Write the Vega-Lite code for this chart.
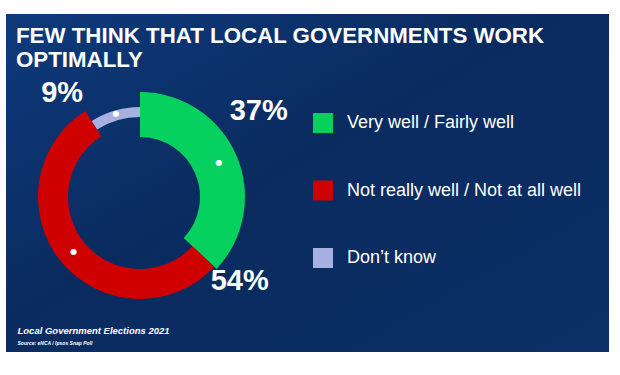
{
  "$schema": "https://vega.github.io/schema/vega-lite/v6.json",
  "width": 603,
  "height": 338,
  "autosize": {"type": "none"},
  "padding": {"left": 6, "top": 14, "right": 11, "bottom": 23},
  "background": "#ffffff",
  "config": {
    "view": {
      "stroke": null,
      "fill": {"gradient": "linear", "x1": 0, "y1": 0, "x2": 1, "y2": 1,
        "stops": [{"offset": 0, "color": "#0e3a7c"}, {"offset": 0.45, "color": "#0a2b5f"}, {"offset": 1, "color": "#0b2f66"}]}
    },
    "font": "Liberation Sans"
  },
  "title": {
    "text": ["FEW THINK THAT LOCAL GOVERNMENTS WORK", "OPTIMALLY"],
    "anchor": "start",
    "frame": "group",
    "orient": "top",
    "offset": -8,
    "dy": 49,
    "dx": 10,
    "fontSize": 22.3,
    "fontWeight": "bold",
    "color": "#ffffff",
    "font": "Liberation Sans",
    "lineHeight": 24
  },
  "data": {
    "values": [
      {"response": "Very well / Fairly well", "pct": 37, "label": "37%"},
      {"response": "Not really well / Not at all well", "pct": 54, "label": "54%"},
      {"response": "Don’t know", "pct": 9, "label": "9%"}
    ]
  },
  "encoding": {
    "x": {
      "datum": 0, "type": "quantitative",
      "scale": {"domain": [-1.34, 4.69]},
      "axis": {"title": "Local Government Elections 2021", "domain": false, "ticks": false, "labels": false, "grid": false,
        "titleX": 11, "titleY": -19, "titleAlign": "left", "titleAnchor": "start", "titleBaseline": "alphabetic",
        "titleColor": "#ffffff", "titleFontSize": 9.5, "titleFontStyle": "italic", "titleFontWeight": "bold", "titleFont": "Liberation Sans"}
    },
    "y": {
      "datum": 0, "type": "quantitative",
      "scale": {"domain": [-1.55, 1.83]},
      "axis": {"title": "Source: eNCA / Ipsos Snap Poll", "domain": false, "ticks": false, "labels": false, "grid": false,
        "titleAngle": 0, "titleX": 11, "titleY": 330, "titleAlign": "left", "titleAnchor": "start", "titleBaseline": "alphabetic",
        "titleColor": "#ffffff", "titleFontSize": 5, "titleFontStyle": "italic", "titleFontWeight": "bold", "titleFont": "Liberation Sans"}
    }
  },
  "layer": [
    {
      "transform": [
        {"stack": "pct", "groupby": [], "sort": [{"field": "response", "order": "descending"}], "as": ["t0", "t1"]},
        {"filter": "datum.response === 'Very well / Fairly well'"}
      ],
      "mark": {"type": "arc", "innerRadius": 60, "outerRadius": 105},
      "encoding": {
        "theta": {"field": "t0", "type": "quantitative", "scale": {"domain": [0, 100]}},
        "theta2": {"field": "t1"},
        "color": {
          "field": "response", "type": "nominal",
          "scale": {"domain": ["Very well / Fairly well", "Not really well / Not at all well", "Don’t know"], "range": ["#06d15f", "#cf0000", "#a6b1e1"]},
          "legend": {"orient": "none", "legendX": 307, "legendY": 99, "title": null, "symbolType": "square", "symbolSize": 400, "symbolStrokeWidth": 0, "symbolOpacity": 1,
            "labelFontSize": 18, "labelColor": "#ffffff", "labelFont": "Liberation Sans", "labelOffset": 14, "rowPadding": 47.5, "padding": 0, "labelLimit": 400}
        }
      }
    },
    {
      "transform": [
        {"stack": "pct", "groupby": [], "sort": [{"field": "response", "order": "descending"}], "as": ["t0", "t1"]},
        {"filter": "datum.response === 'Not really well / Not at all well'"}
      ],
      "mark": {"type": "arc", "innerRadius": 72, "outerRadius": 102},
      "encoding": {
        "theta": {"field": "t0", "type": "quantitative", "scale": {"domain": [0, 100]}},
        "theta2": {"field": "t1"},
        "color": {"field": "response", "type": "nominal"}
      }
    },
    {
      "transform": [
        {"stack": "pct", "groupby": [], "sort": [{"field": "response", "order": "descending"}], "as": ["t0", "t1"]},
        {"filter": "datum.response === 'Don’t know'"}
      ],
      "mark": {"type": "arc", "innerRadius": 80, "outerRadius": 90},
      "encoding": {
        "theta": {"field": "t0", "type": "quantitative", "scale": {"domain": [0, 100]}},
        "theta2": {"field": "t1"},
        "color": {"field": "response", "type": "nominal"}
      }
    },
    {
      "mark": {"type": "text", "radius": 86, "text": "●", "fontSize": 8, "color": "#ffffff", "align": "center", "baseline": "middle", "font": "DejaVu Sans"},
      "encoding": {
        "theta": {"field": "pct", "type": "quantitative", "stack": true, "scale": {"domain": [0, 100]}},
        "detail": {"field": "response"},
        "order": {"field": "response", "sort": "descending"}
      }
    },
    {
      "mark": {"type": "text", "radius": 125, "dx": 4, "dy": -36, "fontSize": 29, "fontWeight": "bold", "color": "#ffffff", "align": "center", "baseline": "middle"},
      "encoding": {
        "theta": {"field": "pct", "type": "quantitative", "stack": true, "scale": {"domain": [0, 100]}},
        "detail": {"field": "response"},
        "order": {"field": "response", "sort": "descending"},
        "text": {"condition": {"test": "datum.response === 'Very well / Fairly well'", "field": "label"}, "value": ""}
      }
    },
    {
      "mark": {"type": "text", "radius": 125, "dx": 196, "dy": 4, "fontSize": 29, "fontWeight": "bold", "color": "#ffffff", "align": "center", "baseline": "middle"},
      "encoding": {
        "theta": {"field": "pct", "type": "quantitative", "stack": true, "scale": {"domain": [0, 100]}},
        "detail": {"field": "response"},
        "order": {"field": "response", "sort": "descending"},
        "text": {"condition": {"test": "datum.response === 'Not really well / Not at all well'", "field": "label"}, "value": ""}
      }
    },
    {
      "mark": {"type": "text", "radius": 125, "dx": -43, "dy": 16, "fontSize": 29, "fontWeight": "bold", "color": "#ffffff", "align": "center", "baseline": "middle"},
      "encoding": {
        "theta": {"field": "pct", "type": "quantitative", "stack": true, "scale": {"domain": [0, 100]}},
        "detail": {"field": "response"},
        "order": {"field": "response", "sort": "descending"},
        "text": {"condition": {"test": "datum.response === 'Don’t know'", "field": "label"}, "value": ""}
      }
    }
  ]
}
